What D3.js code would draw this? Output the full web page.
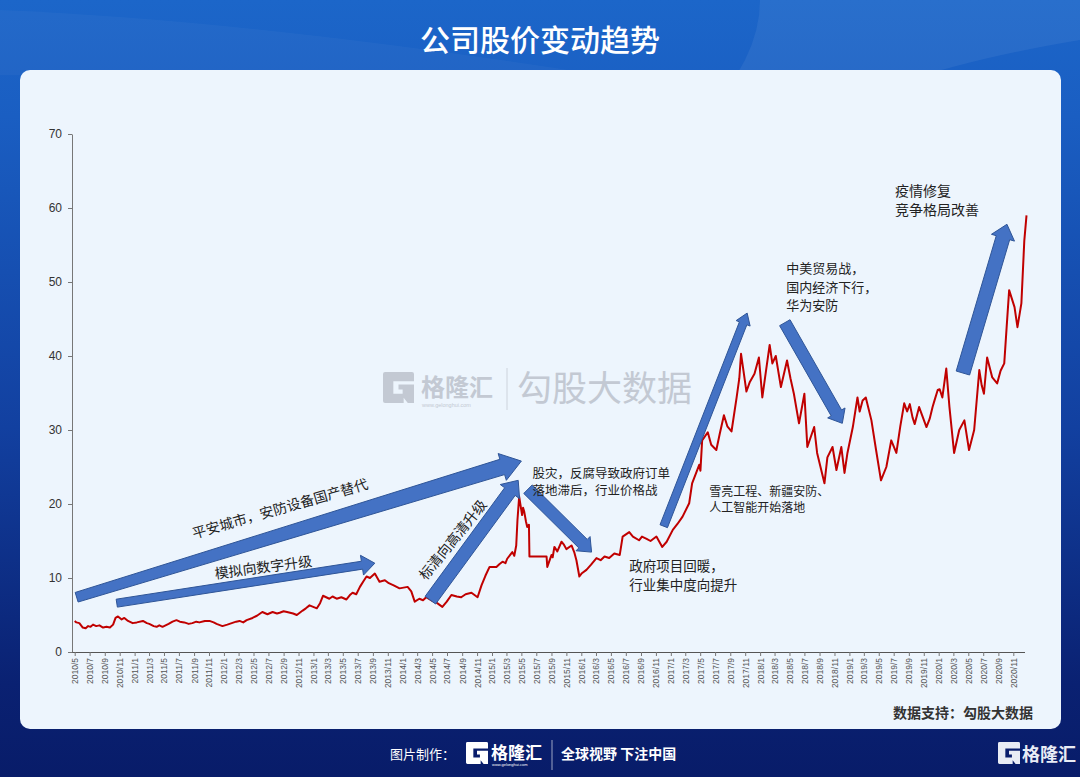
<!DOCTYPE html>
<html>
<head>
<meta charset="utf-8">
<script src="https://cdn.jsdelivr.net/npm/d3@7"></script>
<style>
  body { margin: 0; background: #0a1d6b; }
  svg { display: block; }
</style>
</head>
<body>
<svg id="chart" width="1080" height="777"></svg>
<script>
// ---- data ----
const yTicks = [0, 10, 20, 30, 40, 50, 60, 70];

const s2010 = [["2010-05-01",4.2],["2010-05-08",4.0],["2010-05-20",3.9],["2010-06-03",3.3],["2010-06-15",3.2],["2010-06-25",3.5],["2010-07-05",3.4],["2010-07-15",3.7],["2010-07-28",3.5],["2010-08-10",3.6],["2010-08-25",3.3],["2010-09-08",3.4],["2010-09-22",3.3],["2010-10-05",3.7],["2010-10-15",4.6],["2010-10-25",4.8],["2010-11-09",4.4],["2010-11-20",4.6],["2010-12-05",4.2],["2010-12-24",3.9]];
const s2011 = [["2011-01-10",4.0],["2011-02-04",4.2],["2011-02-20",3.9],["2011-03-02",3.8],["2011-03-20",3.5],["2011-04-01",3.4],["2011-04-12",3.6],["2011-04-25",3.4],["2011-05-20",3.8],["2011-06-05",4.1],["2011-06-21",4.3],["2011-07-05",4.1],["2011-07-23",4.0],["2011-08-10",3.8],["2011-08-25",3.9],["2011-09-10",4.1],["2011-09-23",4.0],["2011-10-15",4.2],["2011-11-03",4.2],["2011-11-20",4.0],["2011-12-02",3.8],["2011-12-26",3.5]];
const s2012 = [["2012-01-15",3.7],["2012-02-02",3.9],["2012-02-20",4.1],["2012-03-05",4.2],["2012-03-20",4.0],["2012-04-03",4.3],["2012-04-27",4.6],["2012-05-15",4.9],["2012-06-06",5.4],["2012-06-27",5.1],["2012-07-18",5.4],["2012-08-05",5.2],["2012-08-16",5.3],["2012-09-01",5.5],["2012-09-15",5.4],["2012-10-10",5.2],["2012-10-25",5.0],["2012-11-18",5.6],["2012-12-01",5.9],["2012-12-16",6.3]];
const s2013 = [["2013-01-15",5.9],["2013-01-28",6.6],["2013-02-09",7.6],["2013-03-07",7.2],["2013-03-20",7.5],["2013-04-06",7.2],["2013-04-25",7.4],["2013-05-16",7.1],["2013-05-30",7.7],["2013-06-10",8.0],["2013-06-25",7.8],["2013-07-10",8.8],["2013-07-25",9.6],["2013-08-06",10.2],["2013-08-20",10.0],["2013-09-09",10.6],["2013-09-28",9.5],["2013-10-20",9.7],["2013-11-05",9.3],["2013-11-25",9.0],["2013-12-19",8.6]];
const s2014 = [["2014-01-21",8.8],["2014-02-05",8.2],["2014-02-19",6.8],["2014-03-10",7.2],["2014-03-25",7.0],["2014-04-07",7.4],["2014-05-02",6.9],["2014-05-22",6.6],["2014-06-12",6.1],["2014-06-30",6.8],["2014-07-19",7.7],["2014-08-10",7.5],["2014-08-28",7.4],["2014-09-15",7.8],["2014-10-09",8.0],["2014-11-03",7.4],["2014-11-19",9.0],["2014-12-05",10.3],["2014-12-22",11.5]];
const s2015 = [["2015-01-19",11.5],["2015-02-01",11.9],["2015-02-13",12.2],["2015-02-25",12.0],["2015-03-04",12.6],["2015-03-25",13.5],["2015-04-02",13.0],["2015-04-10",14.4],["2015-04-15",17.8],["2015-04-22",21.0],["2015-05-04",18.5],["2015-05-08",19.5],["2015-05-13",18.9],["2015-05-20",17.6],["2015-05-25",16.9],["2015-06-01",17.2],["2015-06-03",12.9],["2015-08-12",12.9],["2015-08-15",11.5],["2015-09-01",13.1],["2015-09-06",12.8],["2015-09-13",14.2],["2015-09-25",13.6],["2015-10-12",14.9],["2015-10-22",14.5],["2015-11-01",13.9],["2015-11-22",14.4],["2015-12-03",13.5],["2015-12-12",12.4],["2015-12-24",10.2]];
const s2016 = [["2016-01-02",10.6],["2016-01-22",11.1],["2016-02-10",11.8],["2016-03-03",12.7],["2016-03-20",12.4],["2016-04-05",12.9],["2016-04-24",12.7],["2016-05-15",13.3],["2016-06-06",13.1],["2016-06-18",15.6],["2016-07-15",16.2],["2016-07-30",15.6],["2016-08-24",15.1],["2016-09-05",15.6],["2016-09-24",15.3],["2016-10-10",15.0],["2016-11-03",15.6],["2016-11-27",14.2],["2016-12-15",14.9]];
const s2017 = [["2017-01-09",16.5],["2017-01-28",17.3],["2017-02-18",18.3],["2017-03-17",20.1],["2017-03-29",22.8],["2017-04-27",25.3],["2017-05-02",24.5],["2017-05-09",28.6],["2017-06-01",29.7],["2017-06-15",28.0],["2017-07-06",27.3],["2017-07-20",29.5],["2017-08-06",32.0],["2017-08-20",30.5],["2017-09-06",29.8],["2017-09-27",34.4],["2017-10-08",37.0],["2017-10-15",40.3],["2017-10-25",38.0],["2017-11-06",35.2],["2017-11-20",36.5],["2017-12-09",37.6],["2017-12-27",39.8]];
const s2018 = [["2018-01-10",34.4],["2018-01-25",38.0],["2018-02-09",41.5],["2018-02-20",39.0],["2018-03-06",40.0],["2018-03-27",35.8],["2018-04-21",39.4],["2018-05-05",37.0],["2018-05-19",34.9],["2018-06-09",30.9],["2018-07-01",34.9],["2018-07-13",27.7],["2018-08-10",30.4],["2018-08-22",26.9],["2018-09-21",22.8],["2018-10-03",26.3],["2018-10-24",27.7],["2018-11-09",24.6],["2018-11-29",27.7],["2018-12-12",24.2],["2018-12-24",26.9]];
const s2019 = [["2019-01-15",30.4],["2019-02-03",34.4],["2019-02-12",32.5],["2019-02-24",34.0],["2019-03-09",34.4],["2019-04-01",31.3],["2019-04-20",27.3],["2019-05-10",23.2],["2019-06-01",25.0],["2019-06-21",28.6],["2019-07-12",26.9],["2019-07-28",30.5],["2019-08-13",33.6],["2019-08-25",32.5],["2019-09-05",33.5],["2019-09-16",31.7],["2019-09-25",30.8],["2019-10-13",33.1],["2019-10-25",32.0],["2019-11-12",30.4],["2019-11-25",31.5],["2019-12-07",33.1],["2019-12-15",34.0],["2019-12-28",35.4]];
const s2020 = [["2020-01-05",35.5],["2020-01-16",34.4],["2020-02-01",38.3],["2020-02-14",33.1],["2020-03-04",26.9],["2020-03-25",30.0],["2020-04-15",31.3],["2020-05-04",27.3],["2020-05-25",30.0],["2020-06-15",38.1],["2020-06-25",36.0],["2020-07-04",34.9],["2020-07-17",39.8],["2020-08-07",37.1],["2020-08-27",36.3],["2020-09-10",38.0],["2020-09-25",39.0],["2020-10-05",44.0],["2020-10-15",48.9],["2020-11-06",46.6],["2020-11-18",43.9],["2020-12-04",47.1],["2020-12-16",55.6],["2020-12-25",59.0]];

// arrows: tail / tip in (date, price)
const arrowList = [
  { from: ["2010-05-09", 7.4], to: ["2015-05-01", 25.8], w0: 10, w1: 16, hw: 28, hl: 20 },
  { from: ["2010-10-20", 6.6], to: ["2013-09-09", 12.0], w0: 8, w1: 8, hw: 20, hl: 13 },
  { from: ["2014-04-24", 7.0], to: ["2015-04-18", 23.2], w0: 13, w1: 13, hw: 24, hl: 14 },
  { from: ["2015-05-28", 22.0], to: ["2016-02-12", 13.5], w0: 12, w1: 12, hw: 20, hl: 12 },
  { from: ["2016-12-03", 17.0], to: ["2017-11-09", 45.8], w0: 8, w1: 8, hw: 15, hl: 11 },
  { from: ["2018-04-12", 44.5], to: ["2018-12-03", 30.9], w0: 12, w1: 12, hw: 20, hl: 12 },
  { from: ["2020-04-09", 37.7], to: ["2020-10-06", 57.8], w0: 14, w1: 14, hw: 24, hl: 14 }
];

// annotation notes anchored at (date, price)
const noteList = [
  { lines: ["平安城市，安防设备国产替代"], at: ["2011-08-25", 16.1], rot: -16, size: 14 },
  { lines: ["模拟向数字升级"], at: ["2011-11-24", 10.7], rot: -7.5, size: 14 },
  { lines: ["标清向高清升级"], at: ["2014-03-18", 10.1], rot: -51, size: 14 },
  { lines: ["股灾，反腐导致政府订单", "落地滞后，行业价格战"], at: ["2015-06-15", 24.3], rot: 0, size: 12.5, gap: 17 },
  { lines: ["政府项目回暖，", "行业集中度向提升"], at: ["2016-07-15", 11.8], rot: 0, size: 13.5, gap: 19 },
  { lines: ["雪亮工程、新疆安防、", "人工智能开始落地"], at: ["2017-06-07", 21.9], rot: 0, size: 12, gap: 16 },
  { lines: ["中美贸易战，", "国内经济下行，", "华为安防"], at: ["2018-04-18", 52.0], rot: 0, size: 13, gap: 18.5 },
  { lines: ["疫情修复", "竞争格局改善"], at: ["2019-07-06", 62.4], rot: 0, size: 14, gap: 19 }
];

const parse = d3.timeParse("%Y-%m-%d");
const series = [s2010, s2011, s2012, s2013, s2014, s2015, s2016, s2017, s2018, s2019, s2020]
  .flat().map(d => ({ date: parse(d[0]), value: d[1] }));

const svg = d3.select("#chart");
const W = 1080, H = 777;
const cjk = "'Noto Sans CJK SC', 'Noto Sans', sans-serif";

// ---- background ----
const defs = svg.append("defs");
const bg = defs.append("linearGradient").attr("id", "bg").attr("x1", 0).attr("y1", 0).attr("x2", 0).attr("y2", 1);
bg.append("stop").attr("offset", "0%").attr("stop-color", "#1c66c9");
bg.append("stop").attr("offset", "15%").attr("stop-color", "#1a5ec2");
bg.append("stop").attr("offset", "55%").attr("stop-color", "#1240a0");
bg.append("stop").attr("offset", "88%").attr("stop-color", "#0a2172");
bg.append("stop").attr("offset", "100%").attr("stop-color", "#081c69");
svg.append("rect").attr("width", W).attr("height", H).attr("fill", "url(#bg)");

// faint light sweeps in the header
svg.append("path").attr("d", "M760,0 L1080,0 L1080,40 Q900,70 820,120 L700,120 Q760,60 760,0 Z")
  .attr("fill", "#ffffff").attr("opacity", 0.06);
svg.append("path").attr("d", "M0,10 Q250,20 600,75 L0,75 Z")
  .attr("fill", "#ffffff").attr("opacity", 0.03);

svg.append("text")
  .attr("x", W / 2).attr("y", 51)
  .attr("text-anchor", "middle")
  .attr("font-family", cjk).attr("font-size", 30).attr("font-weight", 500)
  .attr("fill", "#ffffff")
  .text("公司股价变动趋势");

// panel
svg.append("rect")
  .attr("x", 20).attr("y", 70).attr("width", 1041).attr("height", 659).attr("rx", 10)
  .attr("fill", "#edf5fd");

// ---- G logo helper ----
function gLogo(g, x, y, s, color) {
  const k = s / 30;
  g.append("path")
    .attr("transform", `translate(${x},${y}) scale(${k})`)
    .attr("d", "M2,0 H28 Q30,0 30,2 V9 H10 V21 H19 V17 H15 V12 H30 V30 H24 L20,25 V30 H2 Q0,30 0,28 V2 Q0,0 2,0 Z")
    .attr("fill", color);
}

// watermark
const wm = svg.append("g");
gLogo(wm, 383, 372, 31, "#c3c9d3");
wm.append("text").attr("x", 421).attr("y", 396).attr("font-family", cjk).attr("font-size", 24)
  .attr("font-weight", 700).attr("fill", "#c3c9d3").text("格隆汇");
wm.append("text").attr("x", 422).attr("y", 407).attr("font-family", "Liberation Sans").attr("font-size", 5.5)
  .attr("fill", "#c3c9d3").text("www.gelonghui.com");
wm.append("line").attr("x1", 507).attr("x2", 507).attr("y1", 368).attr("y2", 410)
  .attr("stroke", "#cdd3dc").attr("stroke-width", 1);
wm.append("text").attr("x", 517).attr("y", 401).attr("font-family", cjk).attr("font-size", 35)
  .attr("fill", "#c3c9d3").text("勾股大数据");

// ---- scales ----
const x = d3.scaleTime()
  .domain([parse("2010-04-20"), parse("2020-12-27")])
  .range([72, 1027]);
const y = d3.scaleLinear().domain([0, 70]).range([652, 134]);

// axes
const xTicks = d3.timeMonth.every(2).range(parse("2010-05-01"), parse("2020-11-02"));
const xAxis = svg.append("g")
  .attr("transform", `translate(0,${y(0)})`)
  .call(d3.axisBottom(x).tickValues(xTicks).tickSize(4).tickSizeOuter(0).tickFormat(d3.timeFormat("%Y/%-m")));
xAxis.select(".domain").attr("stroke", "#555").attr("d", `M72,0.5H1025`);
xAxis.selectAll(".tick line").attr("stroke", "#777");
xAxis.selectAll(".tick text")
  .attr("transform", "rotate(-90)")
  .attr("x", -6).attr("y", 0).attr("dy", "0.35em")
  .attr("text-anchor", "end")
  .attr("font-family", "Liberation Sans").attr("font-size", 8.5).attr("fill", "#555");

const yAxis = svg.append("g")
  .attr("transform", `translate(72,0)`)
  .call(d3.axisLeft(y).tickValues(yTicks).tickSize(4).tickSizeOuter(0));
yAxis.select(".domain").attr("stroke", "#777");
yAxis.selectAll(".tick line").attr("stroke", "#777");
yAxis.selectAll(".tick text")
  .attr("x", -10)
  .attr("font-family", "Liberation Sans").attr("font-size", 12).attr("fill", "#333");

// ---- price line ----
const line = d3.line().x(d => x(d.date)).y(d => y(d.value));
svg.append("path")
  .datum(series)
  .attr("d", line)
  .attr("fill", "none")
  .attr("stroke", "#c00000")
  .attr("stroke-width", 2)
  .attr("stroke-linejoin", "round");

// ---- block arrows ----
function arrowPath(a) {
  const x0 = x(parse(a.from[0])), y0 = y(a.from[1]);
  const x1 = x(parse(a.to[0])), y1 = y(a.to[1]);
  const L = Math.hypot(x1 - x0, y1 - y0);
  const ux = (x1 - x0) / L, uy = (y1 - y0) / L;
  const nx = -uy, ny = ux;
  const bx = x1 - ux * a.hl, by = y1 - uy * a.hl;
  const pts = [
    [x0 + nx * a.w0 / 2, y0 + ny * a.w0 / 2],
    [bx + nx * a.w1 / 2, by + ny * a.w1 / 2],
    [bx + nx * a.hw / 2, by + ny * a.hw / 2],
    [x1, y1],
    [bx - nx * a.hw / 2, by - ny * a.hw / 2],
    [bx - nx * a.w1 / 2, by - ny * a.w1 / 2],
    [x0 - nx * a.w0 / 2, y0 - ny * a.w0 / 2]
  ];
  return "M" + pts.map(p => p.join(",")).join("L") + "Z";
}
svg.append("g").selectAll("path")
  .data(arrowList)
  .join("path")
  .attr("d", arrowPath)
  .attr("fill", "#4472c4")
  .attr("stroke", "#2f5597")
  .attr("stroke-width", 1);

// ---- notes ----
const notes = svg.append("g").selectAll("text")
  .data(noteList)
  .join("text")
  .attr("transform", d => `translate(${x(parse(d.at[0]))},${y(d.at[1])}) rotate(${d.rot})`)
  .attr("font-family", cjk)
  .attr("font-size", d => d.size)
  .attr("fill", "#222")
  .attr("dominant-baseline", "central");
notes.selectAll("tspan")
  .data(d => d.lines.map((t, i) => ({ t, i, gap: d.gap || 0 })))
  .join("tspan")
  .attr("x", 0)
  .attr("y", d => d.i * d.gap)
  .text(d => d.t);

// ---- source + footer ----
svg.append("text")
  .attr("x", 1033).attr("y", 718)
  .attr("text-anchor", "end")
  .attr("font-family", cjk).attr("font-size", 14).attr("font-weight", 700)
  .attr("fill", "#333")
  .text("数据支持：勾股大数据");

const foot = svg.append("g");
foot.append("text").attr("x", 390).attr("y", 759).attr("font-family", cjk).attr("font-size", 13)
  .attr("fill", "#ffffff").text("图片制作：");
gLogo(foot, 466, 742, 22, "#ffffff");
foot.append("text").attr("x", 491).attr("y", 759).attr("font-family", cjk).attr("font-size", 17)
  .attr("font-weight", 700).attr("fill", "#ffffff").text("格隆汇");
foot.append("text").attr("x", 492).attr("y", 766).attr("font-family", "Liberation Sans").attr("font-size", 4)
  .attr("fill", "#ffffff").text("www.gelonghui.com");
foot.append("line").attr("x1", 552).attr("x2", 552).attr("y1", 740).attr("y2", 770)
  .attr("stroke", "#ffffff").attr("stroke-opacity", 0.6);
foot.append("text").attr("x", 561).attr("y", 759).attr("font-family", cjk).attr("font-size", 14)
  .attr("font-weight", 700).attr("fill", "#ffffff").text("全球视野 下注中国");
gLogo(foot, 998, 742, 22, "#e8ecf5");
foot.append("text").attr("x", 1022).attr("y", 761).attr("font-family", cjk).attr("font-size", 18)
  .attr("font-weight", 700).attr("fill", "#e8ecf5").text("格隆汇");
</script>
</body>
</html>
